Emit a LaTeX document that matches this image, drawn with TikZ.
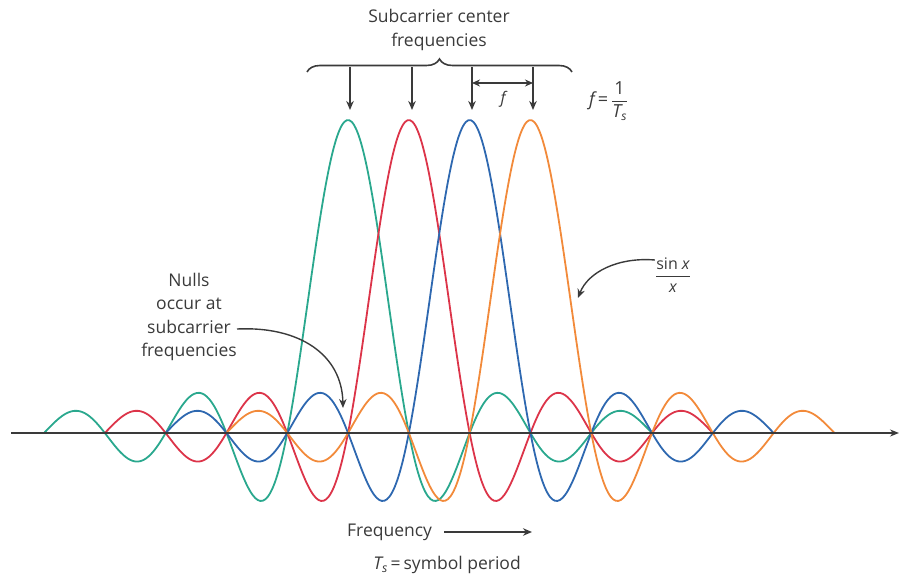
\documentclass[tikz,border=0pt]{standalone}
\usepackage{fontspec}
\setmainfont{Open Sans}
\usetikzlibrary{arrows.meta,decorations.pathreplacing}
\definecolor{cgreen}{HTML}{2AA88E}
\definecolor{cred}{HTML}{DC3449}
\definecolor{cblue}{HTML}{2E68B0}
\definecolor{corange}{HTML}{F28A3A}
\definecolor{ink}{HTML}{3A3A3A}
\begin{document}
\begin{tikzpicture}[x=1pt,y=-1pt,
  curve/.style={line width=1.8pt},
  lbl/.style={text=ink,font=\fontsize{17.5}{23.5}\selectfont,inner sep=0pt},
  mlbl/.style={text=ink,font=\fontsize{16}{20}\selectfont,inner sep=0pt},
  arr/.style={draw=ink,line width=1.4pt,-{Stealth[length=9pt,width=7.5pt]}},
  darr/.style={draw=ink,line width=1.4pt,{Stealth[length=8pt,width=7pt]}-{Stealth[length=8pt,width=7pt]}}]
\useasboundingbox (0,0) rectangle (900,577);
\def\cc{439.25}\def\ss{60.8}
% sinc curves
\foreach \k/\col in {-1.5/cgreen,-0.5/cred,0.5/cblue,1.5/corange}{
  \draw[curve,\col] plot[domain=-5:5,samples=240,smooth]
    ({\cc+\ss*(\x+\k)},{433-313*sin(180*\x)/(pi*\x)});
}
% axis
\coordinate (axL) at (11,433);
\coordinate (axR) at (899,433);
\draw[line width=1.8pt,draw=ink,-{Stealth[length=9pt,width=7pt]}] (axL) -- (axR);
% brace
\coordinate (brL) at (307,72);
\coordinate (brR) at (572,72);
\draw[ink,line width=1.6pt,decorate,decoration={brace,amplitude=13pt}] (brL) -- (brR);
\node[lbl,align=center] (title) at (439,30) {Subcarrier center\\frequencies};
% down arrows
\foreach \n/\xx in {a/350,b/412,c/472,d/533}{
  \coordinate (\n top) at (\xx,67);
  \coordinate (\n bot) at (\xx,110);
  \draw[arr] (\n top) -- (\n bot);
}
\coordinate (fL) at (472,83);
\coordinate (fR) at (533,83);
\draw[darr] (fL) -- (fR);
\node[mlbl] (flab) at (503,99) {\itshape f};
\node[mlbl,anchor=west,font=\fontsize{18}{20}\selectfont] (feq) at (589,101) {\itshape f\upshape\,=\,$\displaystyle\frac{\mbox{1}}{\mbox{\itshape T}_{\mbox{\fontsize{12}{12}\selectfont\itshape s}}}$};
% sinx/x
\node[mlbl] (sinc) at (673,275) {$\displaystyle\frac{\mbox{sin \itshape x}}{\mbox{\itshape x}}$};
\coordinate (sincTip) at (578,298);
\draw[arr] (sinc.west |- 0,260) .. controls (618,257) and (588,272) .. (sincTip);
% nulls
\node[lbl,align=center] (nulls) at (189,317) {Nulls\\occur at\\subcarrier\\frequencies};
\coordinate (nullTip) at (343,408);
\draw[arr] (237,329) .. controls (300,326) and (342,355) .. (nullTip);
% frequency
\node[lbl,anchor=west] (freq) at (347,532) {Frequency};
\coordinate (fqA) at (444,532);
\coordinate (fqB) at (532,532);
\draw[arr] (fqA) -- (fqB);
\node[lbl] (ts) at (447,565) {\itshape T\textsubscript{s}\upshape\,=\,symbol period};
\end{tikzpicture}
\end{document}
